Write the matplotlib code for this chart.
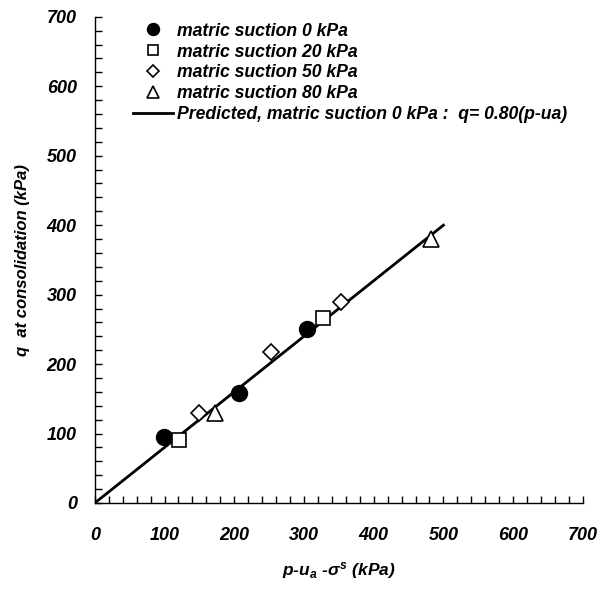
import matplotlib.pyplot as plt
import numpy as np
from matplotlib.ticker import MultipleLocator

plt.rcParams['font.family'] = ['Liberation Sans', 'DejaVu Sans']
plt.rcParams['mathtext.fontset'] = 'custom'
plt.rcParams['mathtext.rm'] = 'Liberation Sans:italic:bold'
plt.rcParams['mathtext.it'] = 'Liberation Sans:italic:bold'
plt.rcParams['mathtext.bf'] = 'Liberation Sans:italic:bold'

# Data: net mean stress vs deviator stress at consolidation
s0_p = [99, 207, 305]
s0_q = [95, 158, 250]
s20_p = [121, 327]
s20_q = [90, 266]
s50_p = [150, 252, 353]
s50_q = [129, 218, 290]
s80_p = [172, 482]
s80_q = [129, 380]

slope = 0.80
line_p = np.array([0, 500])

fig = plt.figure(figsize=(6.04, 5.90), dpi=100)
ax = fig.add_axes([0.157, 0.1475, 0.808, 0.824])

ax.plot(s0_p, s0_q, 'o', color='black', ms=11.5, label='matric suction 0 kPa')
ax.plot(s20_p, s20_q, 's', mfc='white', mec='black', mew=1.2, ms=10.5,
        label='matric suction 20 kPa')
ax.plot(s50_p, s50_q, 'D', mfc='white', mec='black', mew=1.2, ms=8.5,
        label='matric suction 50 kPa')
ax.plot(s80_p, s80_q, '^', mfc='white', mec='black', mew=1.2, ms=11.5,
        label='matric suction 80 kPa')
ax.plot(line_p, slope * line_p, '-', color='black', lw=2,
        label='Predicted, matric suction 0 kPa :  q= 0.80(p-ua)', zorder=1)

ax.set_xlim(0, 700)
ax.set_ylim(0, 700)
ax.xaxis.set_major_locator(MultipleLocator(100))
ax.yaxis.set_major_locator(MultipleLocator(100))
ax.xaxis.set_minor_locator(MultipleLocator(20))
ax.yaxis.set_minor_locator(MultipleLocator(20))
ax.tick_params(which='both', direction='in', length=5, width=1)
ax.tick_params(axis='y', which='major', pad=13)
ax.tick_params(axis='x', which='major', pad=17)

for s in ['top', 'right']:
    ax.spines[s].set_visible(False)
for s in ['left', 'bottom']:
    ax.spines[s].set_linewidth(1)

for lab in ax.get_xticklabels() + ax.get_yticklabels():
    lab.set_fontsize(13)
    lab.set_fontweight('bold')
    lab.set_fontstyle('italic')

ax.set_xlabel(r'p-u$_a$ -$\sigma^s$ (kPa)', fontsize=12.5, fontweight='bold',
              fontstyle='italic', labelpad=12)
ax.set_ylabel('q  at consolidation (kPa)', fontsize=12, fontweight='bold',
              fontstyle='italic', labelpad=12)

ax.legend(loc='upper left', bbox_to_anchor=(0.078, 0.988), frameon=False,
          prop={'size': 12.7, 'weight': 'bold', 'style': 'italic'},
          markerscale=0.75, handlelength=2.3, handletextpad=0.18,
          labelspacing=0.22, borderaxespad=0, borderpad=0)

fig.savefig('out.png', dpi=100)
